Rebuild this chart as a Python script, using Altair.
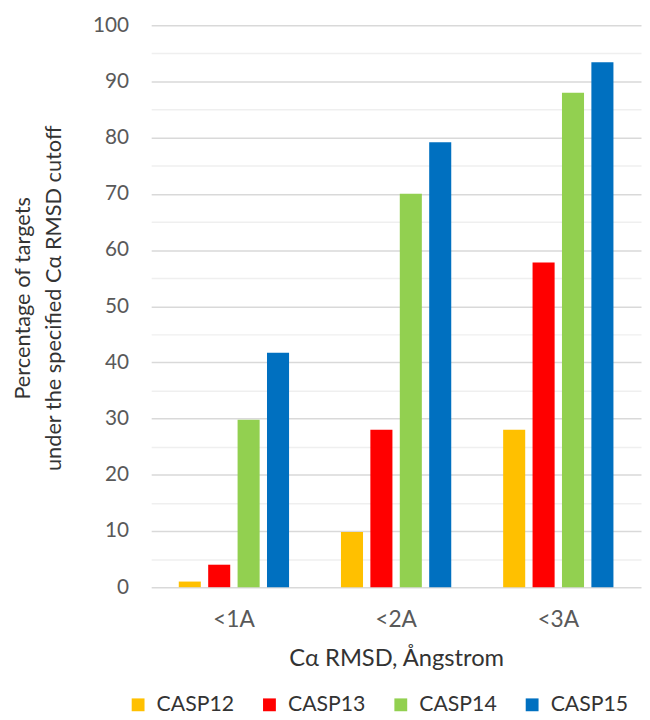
import altair as alt
import pandas as pd

categories = ["<1A", "<2A", "<3A"]
series = ["CASP12", "CASP13", "CASP14", "CASP15"]
colors = ["#FFC000", "#FF0000", "#92D050", "#0070C0"]
casp12 = [1.0, 9.8, 28.0]
casp13 = [4.0, 28.0, 57.8]
casp14 = [29.8, 70.0, 88.0]
casp15 = [41.7, 79.2, 93.4]

values = {"CASP12": casp12, "CASP13": casp13, "CASP14": casp14, "CASP15": casp15}
rows = []
for s in series:
    for c, v in zip(categories, values[s]):
        rows.append({"cat": c, "series": s, "value": v})
df = pd.DataFrame(rows)

FONT = "Lato"

chart = alt.Chart(df).mark_bar().encode(
    x=alt.X("cat:N", sort=categories,
            scale=alt.Scale(paddingInner=0.32, paddingOuter=0.17),
            axis=alt.Axis(title="Cα RMSD, Ångstrom", labelAngle=0, ticks=False, domain=False,
                          labelFontSize=23, labelColor="#595959", labelPadding=33,
                          labelBaseline="middle",
                          titleFontSize=24, titleFontWeight="normal", titleColor="#333333",
                          titleY=72, titleBaseline="middle")),
    xOffset=alt.XOffset("series:N", sort=series, scale=alt.Scale(paddingInner=0.25, paddingOuter=0)),
    y=alt.Y("value:Q", scale=alt.Scale(domain=[0, 100], nice=False),
            axis=alt.Axis(values=list(range(0, 101, 5)), ticks=False, domain=False,
                          labelExpr="datum.value % 10 === 0 ? datum.label : ''",
                          gridColor={"condition": {"test": "datum.value % 10 === 0", "value": "#d9d9d9"},
                                     "value": "#efefef"},
                          gridWidth=1.5,
                          labelFontSize=21, labelColor="#595959", labelPadding=23,
                          title=["Percentage of targets", "under the specified Cα RMSD cutoff"],
                          titleFontSize=22, titleFontWeight="normal", titleColor="#333333",
                          titleAngle=270, titleBaseline="top", titleAlign="center",
                          titleX=-140, titleY=276, titleLineHeight=31)),
    color=alt.Color("series:N", sort=series, scale=alt.Scale(domain=series, range=colors),
                    legend=alt.Legend(orient="none", legendX=-24, legendY=677, direction="horizontal",
                                      title=None, symbolType="square", symbolSize=169,
                                      symbolStrokeWidth=0, labelFontSize=21.5, labelOffset=8,
                                      columnPadding=25, labelColor="#333333")),
).properties(
    width=496, height=569,
    autosize=alt.AutoSizeParams(type="none"),
    padding={"left": 145, "top": 13, "right": 1, "bottom": 130},
).configure(font=FONT).configure_view(stroke=None)

chart.save("out.html", embed_options={"renderer": "svg", "actions": False})
